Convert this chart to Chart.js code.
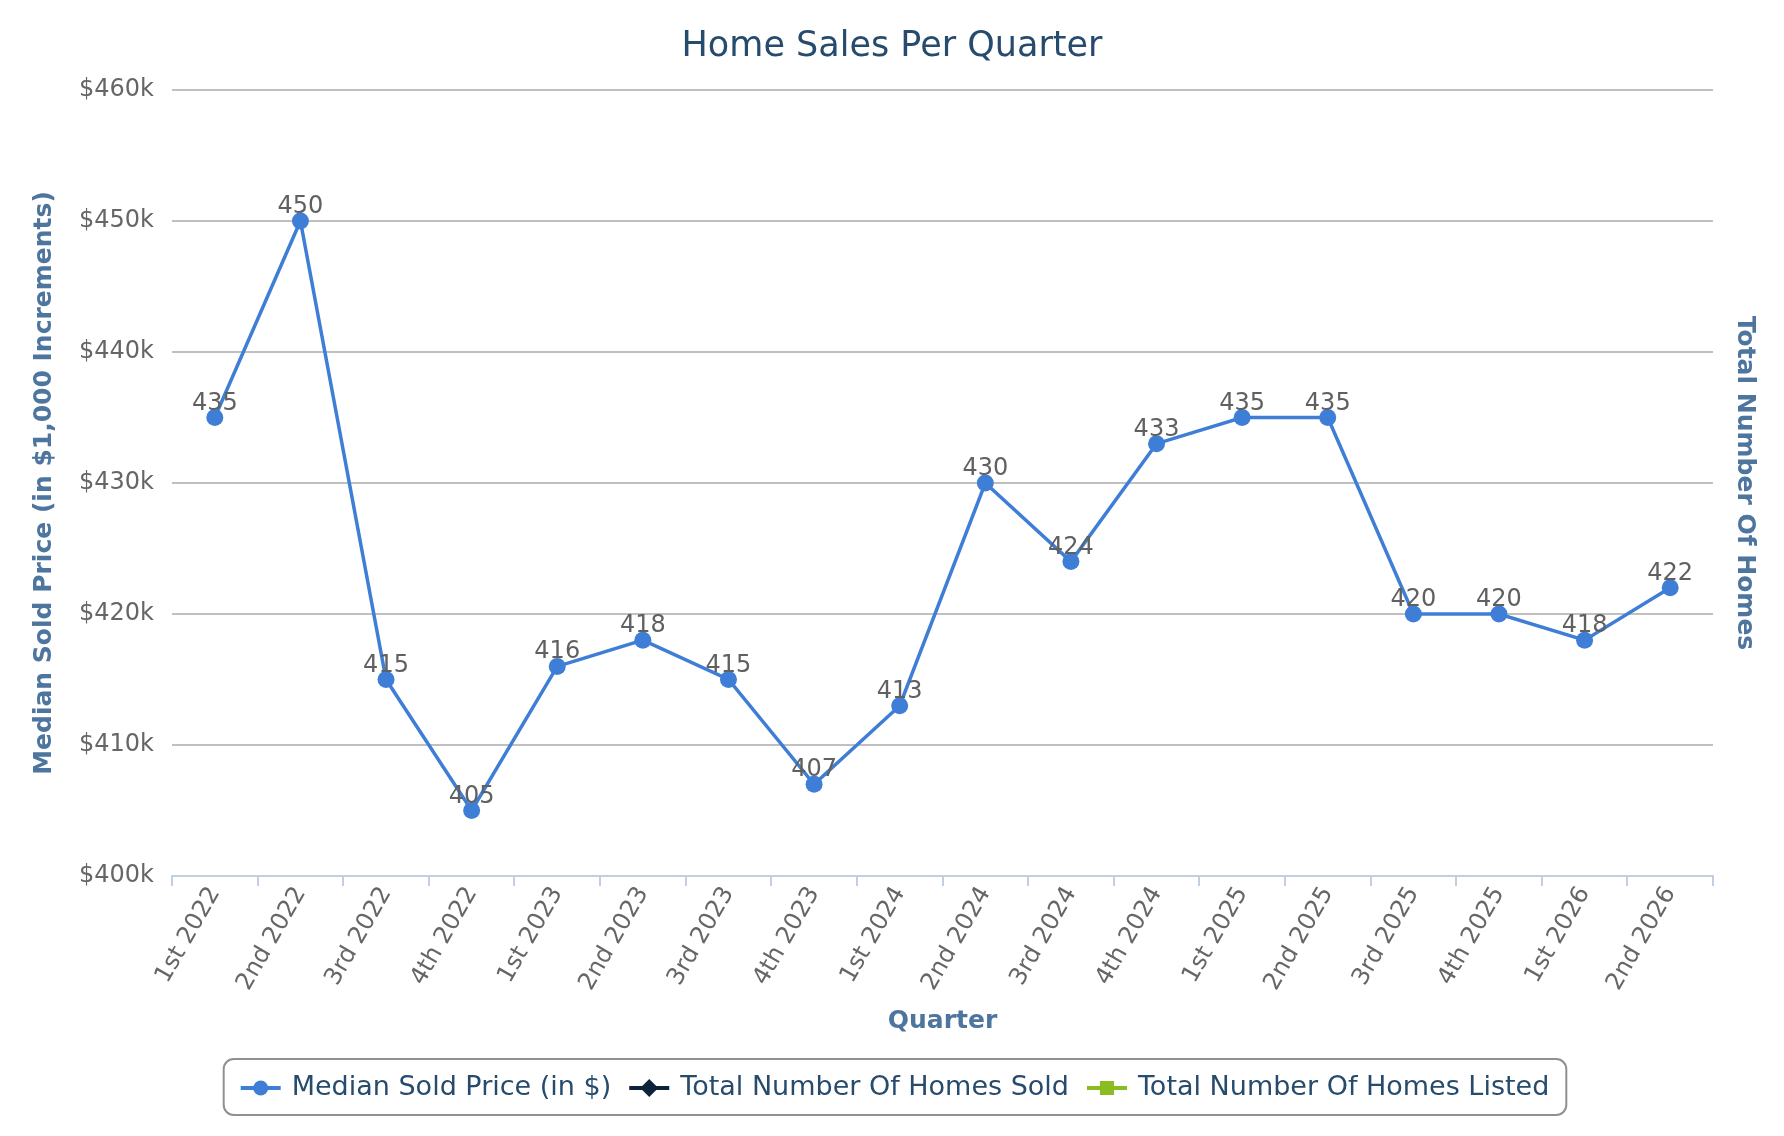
<!DOCTYPE html>
<html>
<head>
<meta charset="utf-8">
<script src="https://cdn.jsdelivr.net/npm/chart.js@4.4.0/dist/chart.umd.min.js"></script>
<style>
  html, body { margin: 0; padding: 0; background: #ffffff; }
  #wrap { width: 1784px; height: 1136px; position: relative; }
  canvas { display: block; }
</style>
</head>
<body>
<div id="wrap"><canvas id="chart" width="1784" height="1136"></canvas></div>
<script>
// ---- Data ----
const quarters = [
  '1st 2022', '2nd 2022', '3rd 2022', '4th 2022',
  '1st 2023', '2nd 2023', '3rd 2023', '4th 2023',
  '1st 2024', '2nd 2024', '3rd 2024', '4th 2024',
  '1st 2025', '2nd 2025', '3rd 2025', '4th 2025',
  '1st 2026', '2nd 2026'
];
// Median sold price, in $1,000 increments
const medianPriceK = [435, 450, 415, 405, 416, 418, 415, 407, 413, 430, 424, 433, 435, 435, 420, 420, 418, 422];
// Series shown in legend but without plotted values
const homesSold = [];
const homesListed = [];
// Price axis range / step (in $1,000)
const priceAxisMin = 400;
const priceAxisMax = 460;
const priceAxisStep = 10;

const FONT = "'DejaVu Sans', Verdana, sans-serif";
Chart.defaults.font.family = FONT;

const valueLabels = {
  id: 'valueLabels',
  afterDatasetsDraw(chart) {
    const ctx = chart.ctx;
    const meta = chart.getDatasetMeta(0);
    const data = chart.data.datasets[0].data;
    ctx.save();
    ctx.font = '24px ' + FONT;
    ctx.fillStyle = '#606060';
    ctx.textAlign = 'center';
    ctx.textBaseline = 'alphabetic';
    meta.data.forEach((pt, i) => {
      if (data[i] == null) return;
      ctx.fillText(String(data[i]), pt.x, pt.y - 8);
    });
    ctx.restore();
  }
};

const boxLegend = {
  id: 'boxLegend',
  afterDraw(chart) {
    const ctx = chart.ctx;
    const items = chart.data.datasets.map(d => ({ label: d.label, color: d.borderColor, style: d.pointStyle }));
    ctx.save();
    ctx.font = '27px ' + FONT;
    const symW = 40, gapT = 11, gapI = 18, padX = 17;
    const widths = items.map(it => ctx.measureText(it.label).width);
    let total = padX * 2 + gapI * (items.length - 1);
    items.forEach((it, i) => { total += symW + gapT + widths[i]; });
    const boxH = 56;
    const boxTop = chart.height - 77;
    const x0 = chart.width / 2 + 3 - total / 2;
    ctx.lineWidth = 2;
    ctx.strokeStyle = '#909090';
    ctx.beginPath();
    if (ctx.roundRect) ctx.roundRect(x0, boxTop, total, boxH, 10);
    else ctx.rect(x0, boxTop, total, boxH);
    ctx.stroke();
    let x = x0 + padX;
    const cy = boxTop + boxH / 2 + 1;
    items.forEach((it, i) => {
      ctx.strokeStyle = it.color;
      ctx.lineWidth = 4;
      ctx.beginPath();
      ctx.moveTo(x, cy);
      ctx.lineTo(x + symW, cy);
      ctx.stroke();
      ctx.fillStyle = it.color;
      const mx = x + symW / 2;
      ctx.beginPath();
      if (it.style === 'circle') {
        ctx.arc(mx, cy, 7.5, 0, Math.PI * 2);
      } else if (it.style === 'rectRot') {
        ctx.moveTo(mx, cy - 9); ctx.lineTo(mx + 9, cy); ctx.lineTo(mx, cy + 9); ctx.lineTo(mx - 9, cy); ctx.closePath();
      } else {
        ctx.rect(mx - 7, cy - 7, 14, 14);
      }
      ctx.fill();
      ctx.fillStyle = '#274b6d';
      ctx.textAlign = 'left';
      ctx.textBaseline = 'middle';
      ctx.fillText(it.label, x + symW + gapT, cy);
      x += symW + gapT + widths[i] + gapI;
    });
    ctx.restore();
  }
};

new Chart(document.getElementById('chart'), {
  type: 'line',
  data: {
    labels: quarters,
    datasets: [
      {
        label: 'Median Sold Price (in $)',
        data: medianPriceK,
        yAxisID: 'y',
        borderColor: '#3f7ed6',
        backgroundColor: '#3f7ed6',
        borderWidth: 3.5,
        pointStyle: 'circle',
        pointRadius: 8.5,
        pointHoverRadius: 8.5,
        pointBorderWidth: 0,
        tension: 0,
        fill: false
      },
      {
        label: 'Total Number Of Homes Sold',
        data: homesSold,
        yAxisID: 'y1',
        borderColor: '#0d233a',
        backgroundColor: '#0d233a',
        pointStyle: 'rectRot'
      },
      {
        label: 'Total Number Of Homes Listed',
        data: homesListed,
        yAxisID: 'y1',
        borderColor: '#8bbc21',
        backgroundColor: '#8bbc21',
        pointStyle: 'rect'
      }
    ]
  },
  options: {
    responsive: false,
    animation: false,
    devicePixelRatio: 1,
    events: [],
    layout: { padding: { left: 0, right: 0, top: 0, bottom: 90 } },
    plugins: {
      legend: { display: false },
      tooltip: { enabled: false },
      title: {
        display: true,
        text: 'Home Sales Per Quarter',
        color: '#274b6d',
        font: { size: 35, weight: 'normal', lineHeight: 1.2 },
        padding: { top: 26, bottom: 22 }
      }
    },
    scales: {
      x: {
        type: 'category',
        offset: true,
        grid: { display: true, drawOnChartArea: false, drawTicks: true, tickLength: 10, color: '#c0d0e0', lineWidth: 2, offset: true },
        border: { display: true, color: '#c0d0e0', width: 2 },
        ticks: { autoSkip: false, minRotation: 60, maxRotation: 60, padding: -4, color: '#666666', font: { size: 24 } },
        title: { display: true, text: 'Quarter', color: '#4d759e', font: { size: 25, weight: 'bold', lineHeight: 1.2 }, padding: { top: 0, bottom: 10 } },
        afterFit: s => { s.height = 170; }
      },
      y: {
        position: 'left',
        min: priceAxisMin,
        max: priceAxisMax,
        ticks: { stepSize: priceAxisStep, callback: v => '$' + v + 'k', color: '#666666', font: { size: 24 }, padding: 18 },
        grid: { color: c => (c.tick && c.tick.value === priceAxisMin) ? 'rgba(0,0,0,0)' : '#c0c0c0', lineWidth: 2, drawTicks: false },
        border: { display: false },
        title: { display: true, text: 'Median Sold Price (in $1,000 Increments)', color: '#4d759e', font: { size: 25, weight: 'bold', lineHeight: 1.2 }, padding: { top: 29, bottom: 0 } },
        afterFit: s => { s.width = 172; }
      },
      y1: {
        position: 'right',
        min: 0,
        max: 1,
        ticks: { display: false },
        grid: { display: false, drawTicks: false },
        border: { display: false },
        title: { display: true, text: 'Total Number Of Homes', color: '#4d759e', font: { size: 25, weight: 'bold', lineHeight: 1.2 }, padding: { top: 25, bottom: 0 } },
        afterFit: s => { s.width = 71; }
      }
    }
  },
  plugins: [valueLabels, boxLegend]
});
</script>
</body>
</html>
